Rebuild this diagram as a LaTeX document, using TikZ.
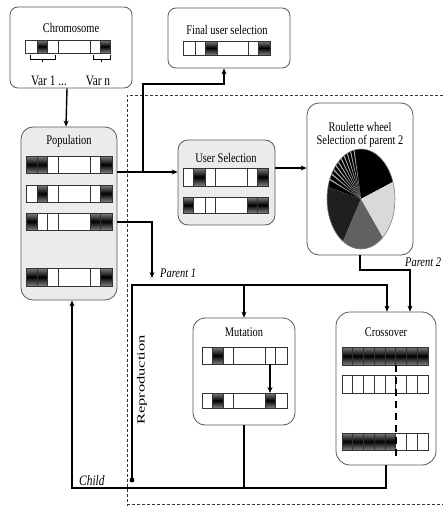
\documentclass[tikz,border=0pt]{standalone}
\usepackage{fontspec}
\setmainfont{Liberation Serif}
\usetikzlibrary{arrows.meta,calc}
\newcommand\gbar[3]{\foreach \a/\b/\s in {#3}{\draw[\s] (\a,#1) rectangle (\b,#2);}}
\newcommand\stt[1]{\scalebox{0.95}[1.2]{#1}}
\begin{document}
\begin{tikzpicture}[x=1pt,y=-1pt,font=\fontsize{11}{13}\selectfont,
  box/.style={draw=black!65, line width=0.8pt, rounded corners=8pt, inner sep=0pt, fill=white},
  graybox/.style={box, fill=black!8},
  title/.style={inner sep=0pt, anchor=center},
  itl/.style={inner sep=0pt, font=\fontsize{11}{13}\selectfont\itshape},
  cw/.style={draw=black!80, line width=0.7pt, fill=white},
  cb/.style={draw=black!80, line width=0.7pt, top color=black!50, bottom color=black!50, middle color=black},
  conn/.style={draw=black, line width=1.4pt},
  connt/.style={draw=black, line width=2.1pt},
  tip/.style={-{Stealth[length=6pt,width=5pt]}},
  bound/.style={draw=black!80, line width=0.9pt, dash pattern=on 3pt off 2pt}]
\useasboundingbox (0,0) rectangle (443,506);

% dashed boundary
\coordinate (dA) at (443,95);
\coordinate (dB) at (127,95);
\coordinate (dC) at (127,506);
\coordinate (dD) at (127,504);
\coordinate (dE) at (443,504);
\draw[bound] (dA) -- (dB) -- (dC);
\draw[bound] (dD) -- (dE);

% boxes
\node[box, minimum width=122pt, minimum height=81pt] (chrom) at (71,47.5) {};
\node[box, minimum width=122pt, minimum height=60pt] (final) at (229,38) {};
\node[graybox, rounded corners=12pt, minimum width=96pt, minimum height=173pt] (pop) at (69,213.5) {};
\node[graybox, rounded corners=10pt, minimum width=97pt, minimum height=85pt] (usel) at (226.5,182.5) {};
\node[box, rounded corners=12pt, minimum width=106pt, minimum height=152pt] (roul) at (360,179) {};
\node[box, rounded corners=12pt, minimum width=102pt, minimum height=107pt] (mut) at (244,371.5) {};
\node[box, rounded corners=14pt, minimum width=100pt, minimum height=153pt] (cross) at (386,388.5) {};

% titles
\node[title] (tchrom) at (71,28) {\stt{Chromosome}};
\node[title] (tfinal) at (227,30) {\stt{Final user selection}};
\node[title] (tpop) at (69,141) {\stt{Population}};
\node[title] (tusel) at (226,158) {\stt{User Selection}};
\node[title] (troul1) at (360,127) {\stt{Roulette wheel}};
\node[title] (troul2) at (360,141) {\stt{Selection of parent 2}};
\node[title] (tmut) at (244,332) {\stt{Mutation}};
\node[title] (tcross) at (386,332) {\stt{Crossover}};
\node[title, font=\fontsize{12}{14}\selectfont] (var1) at (49,81) {\stt{Var 1 ...}};
\node[title, font=\fontsize{12}{14}\selectfont] (varn) at (98,81) {\stt{Var n}};

% chromosome bar and brackets
\gbar{40}{53}{25/37/cw,37/47/cb,47/58/cw,58/90/cw,90/100/cw,100/110/cb}
\coordinate (bl1) at (30,55); \coordinate (bl2) at (55,55);
\coordinate (br1) at (93,55); \coordinate (br2) at (110,55);
\draw[line width=0.7pt] (bl1) -- ++(0,4) -| (bl2);
\draw[line width=0.7pt] (br1) -- ++(0,4) -| (br2);
\draw[line width=0.7pt] ($(bl1)!0.5!(bl2)+(0,4)$) -- ++(0,3);
\draw[line width=0.7pt] ($(br1)!0.5!(br2)+(0,4)$) -- ++(0,3);

% final user selection bar
\gbar{41}{55}{183/195/cw,195/205/cw,205/217/cb,217/248/cw,248/258/cw,258/270/cb}

% population bars
\gbar{156}{173}{26/37/cb,37/47/cb,47/58/cw,58/90/cw,90/100/cw,100/112/cb}
\gbar{185}{202}{26/37/cw,37/47/cb,47/58/cw,58/90/cw,90/100/cw,100/112/cb}
\gbar{213}{230}{26/37/cb,37/47/cw,47/58/cw,58/90/cw,90/100/cb,100/112/cb}
\gbar{268}{286}{26/37/cb,37/47/cb,47/58/cw,58/90/cw,90/100/cw,100/112/cb}

% user selection bars
\gbar{168}{186}{183/193/cw,193/205/cb,205/215/cw,215/247/cw,247/257/cw,257/268/cb}
\gbar{197}{213}{183/193/cb,193/205/cw,205/215/cw,215/247/cw,247/257/cb,257/268/cb}

% mutation bars
\gbar{347}{364}{202/212/cw,212/223/cb,223/233/cw,233/265/cw,265/275/cw,275/287/cw}
\gbar{393}{408}{202/212/cw,212/223/cb,223/233/cw,233/265/cw,265/275/cb,275/287/cw}
\coordinate (m1) at (270,364); \coordinate (m2) at (270,393);
\draw[line width=1.2pt, tip] (m1) -- (m2);

% crossover bars
\gbar{347}{365}{342/352.75/cb,352.75/363.5/cb,363.5/374.25/cb,374.25/385/cb,385/395.75/cb,395.75/406.5/cb,406.5/417.25/cb,417.25/428/cb}
\gbar{375}{393}{342/352.75/cw,352.75/363.5/cw,363.5/374.25/cw,374.25/385/cw,385/395.75/cw,395.75/406.5/cw,406.5/417.25/cw,417.25/428/cw}
\gbar{433}{450}{342/352.75/cb,352.75/363.5/cb,363.5/374.25/cb,374.25/385/cb,385/395.75/cb,395.75/406.5/cw,406.5/417.25/cw,417.25/428/cw}
\coordinate (cx1) at (396,365); \coordinate (cx2) at (396,458);
\draw[line width=1.4pt, dash pattern=on 7pt off 5pt] (cx1) -- (cx2);

% pie
\begin{scope}[shift={(361,199)}, yscale=-1]
\fill[black] (0,0) -- plot[domain=20:166, samples=40] ({34*cos(\x)},{50*sin(\x)}) -- cycle;
\foreach \t [evaluate=\t as \u using \t+1.8] in {101,107,113,119,125,131,137,143,149,156}
  \fill[black!35] (0,0) -- plot[domain=\t:\u, samples=3] ({34*cos(\x)},{50*sin(\x)}) -- cycle;
\fill[black!88] (0,0) -- plot[domain=166:238, samples=25] ({34*cos(\x)},{50*sin(\x)}) -- cycle;
\fill[black!62] (0,0) -- plot[domain=238:310, samples=25] ({34*cos(\x)},{50*sin(\x)}) -- cycle;
\fill[black!15] (0,0) -- plot[domain=310:380, samples=25] ({34*cos(\x)},{50*sin(\x)}) -- cycle;
\draw[black!50, line width=0.6pt] (0,0) ellipse [x radius=34, y radius=50];
\end{scope}

% connectors
\draw[conn, tip] ([xshift=-4pt]chrom.south) -- ([xshift=-3pt]pop.north);
\coordinate (j1) at (143,172);
\coordinate (j2) at (224,84);
\draw[conn, tip] (pop.east |- j1) -- (usel.west |- j1);
\draw[conn, tip] (j1) |- (j2) -- (j2 |- final.south);
\coordinate (j3) at (290,168);
\draw[connt, tip] (usel.east |- j3) -- (roul.west |- j3);
\coordinate (p2) at (410,270);
\draw[connt, tip] (roul.south) |- (p2) -- (p2 |- cross.north);
\coordinate (p1a) at (152,222);
\coordinate (p1b) at (152,278);
\draw[conn, tip] (pop.east |- p1a) -- (p1a) -- (p1b);
\coordinate (r0) at (132,480);
\coordinate (r1) at (132,285);
\coordinate (r2) at (387,285);
\draw[conn, tip] (r0) -- (r1) -- (r2) -- (r2 |- cross.north);
\draw[conn, tip] (mut.north |- r1) -- (mut.north);
\fill (r0) circle (2.4);
\coordinate (b0) at (72,488);
\draw[connt, tip] (cross.south) |- (b0) -- (b0 |- pop.south);
\draw[connt] (mut.south) -- (mut.south |- b0);

% labels
\node[itl, anchor=west] (lp1) at (160,273) {\stt{Parent 1}};
\node[itl, anchor=west] (lp2) at (405,262) {\stt{Parent 2}};
\node[itl, anchor=west, font=\fontsize{12}{14}\selectfont\itshape] (lch) at (79,481) {\stt{Child}};
\node[inner sep=0pt, rotate=90] (lrep) at (142,380) {\scalebox{1.5}[1]{Reproduction}};
\end{tikzpicture}
\end{document}
